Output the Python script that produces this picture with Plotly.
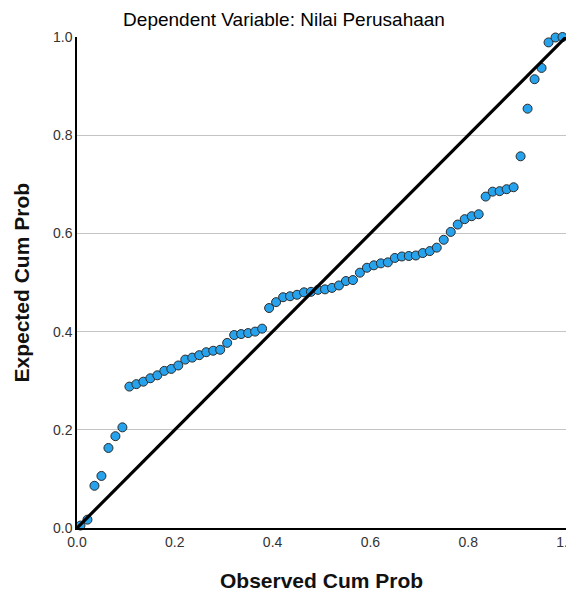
import plotly.graph_objects as go

n_cases = 70
observed_cum_prob = [(i - 0.5) / n_cases for i in range(1, n_cases + 1)]
expected_cum_prob = [
    0.005, 0.017, 0.086, 0.106, 0.163, 0.187, 0.205, 0.288, 0.293, 0.298,
    0.305, 0.311, 0.320, 0.324, 0.331, 0.343, 0.347, 0.352, 0.358, 0.361,
    0.363, 0.377, 0.393, 0.395, 0.397, 0.400, 0.406, 0.448, 0.460, 0.470,
    0.472, 0.475, 0.480, 0.481, 0.485, 0.486, 0.489, 0.494, 0.503, 0.505,
    0.520, 0.530, 0.535, 0.539, 0.541, 0.550, 0.553, 0.554, 0.555, 0.560,
    0.564, 0.571, 0.587, 0.603, 0.618, 0.629, 0.635, 0.639, 0.675, 0.685,
    0.686, 0.690, 0.694, 0.757, 0.854, 0.914, 0.937, 0.989, 0.999, 1.000,
]
ref_line_x = [0.0, 1.0]
ref_line_y = [0.0, 1.0]
tick_vals = [0.0, 0.2, 0.4, 0.6, 0.8, 1.0]
tick_text = ["0.0", "0.2", "0.4", "0.6", "0.8", "1.0"]

title_text = "Dependent Variable: Nilai Perusahaan"
x_title = "Observed Cum Prob"
y_title = "Expected Cum Prob"

# page body has an 8px margin, so the figure is offset by (8, 8)
W, H = 574, 585
ML, MR, MT, MB = 69, 16, 29, 65
PW, PH = W - ML - MR, H - MT - MB

fig = go.Figure()
fig.add_trace(go.Scatter(
    x=observed_cum_prob, y=expected_cum_prob, mode="markers",
    marker=dict(size=9, color="#27a2ec", line=dict(color="#2b2b2b", width=1)),
    cliponaxis=False, showlegend=False,
))
fig.add_trace(go.Scatter(
    x=ref_line_x, y=ref_line_y, mode="lines",
    line=dict(color="black", width=3.2),
    cliponaxis=False, showlegend=False,
))

font_family = "Liberation Sans, Arial, sans-serif"
fig.update_layout(
    width=W, height=H,
    margin=dict(l=ML, r=MR, t=MT, b=MB),
    paper_bgcolor="white", plot_bgcolor="white",
    font=dict(family=font_family, color="#222222"),
    title=dict(text=title_text, x=276 / W, xref="container", xanchor="center",
               y=1 - 11 / H, yref="container", yanchor="middle",
               font=dict(size=19, family=font_family, color="#000000")),
    annotations=[
        dict(text="<b>" + x_title + "</b>", xref="paper", yref="paper",
             x=0.5, y=-52 / PH, xanchor="center", yanchor="middle",
             showarrow=False, font=dict(size=21, color="#111111")),
        dict(text="<b>" + y_title + "</b>", xref="paper", yref="paper",
             x=-56 / PW, y=0.5, xanchor="center", yanchor="middle",
             textangle=-90, showarrow=False, font=dict(size=21, color="#111111")),
    ],
)
fig.update_xaxes(
    range=[0, 1], tickvals=tick_vals, ticktext=tick_text, automargin=False,
    showgrid=False, zeroline=False, showline=True, linecolor="black", linewidth=1.5,
    ticks="", ticklabeloverflow="allow", tickfont=dict(size=14, color="#333333"),
)
fig.update_yaxes(
    range=[0, 1], tickvals=tick_vals, ticktext=tick_text, automargin=False,
    showgrid=True, gridcolor="#c4c4c4", gridwidth=1,
    zeroline=False, showline=True, linecolor="black", linewidth=1.5,
    ticks="", ticklabeloverflow="allow", tickfont=dict(size=14, color="#333333"),
)

fig.write_html("out.html")
